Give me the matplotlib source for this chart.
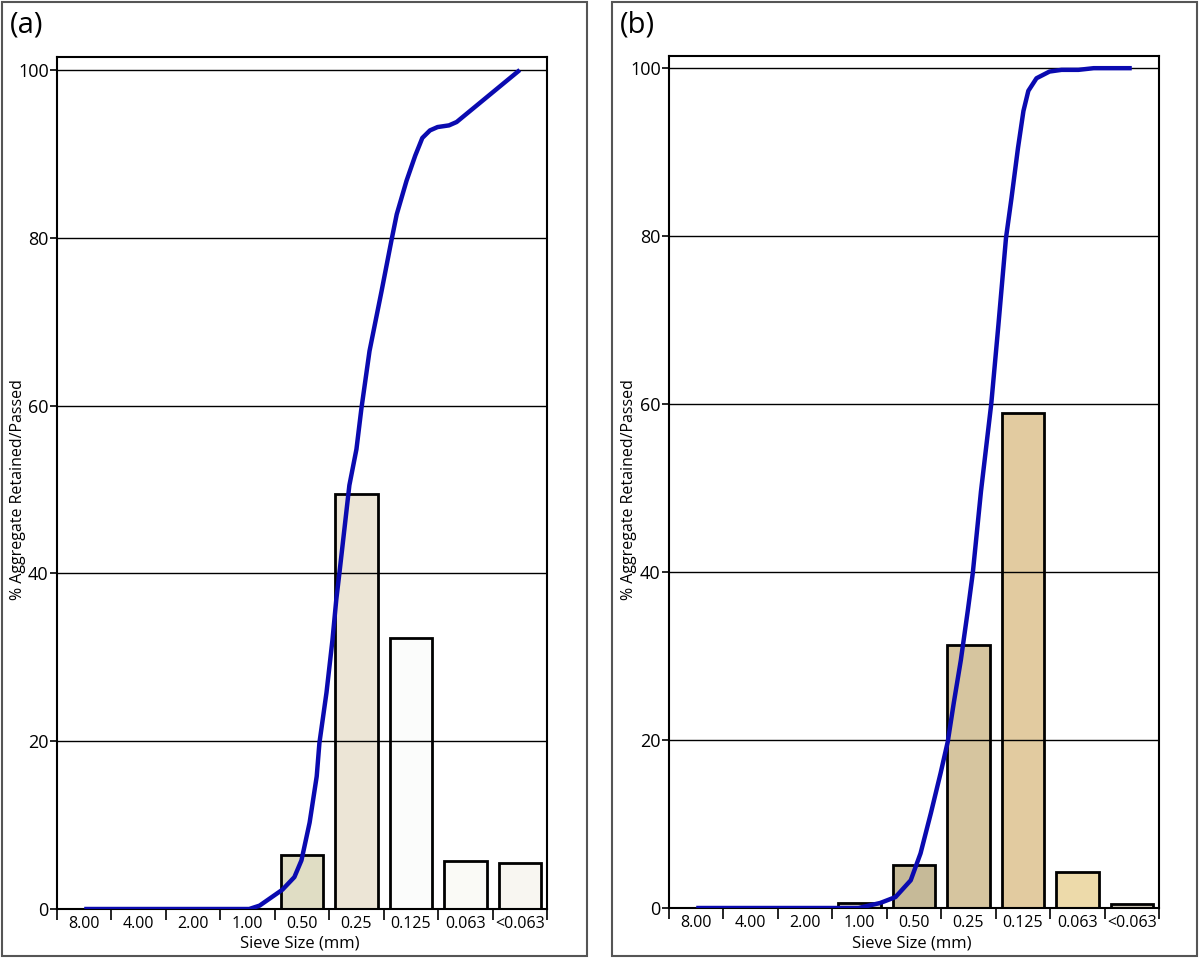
import matplotlib
matplotlib.use("Agg")
import matplotlib.pyplot as plt
from matplotlib.patches import Rectangle

plt.rcParams['font.family'] = ['Open Sans', 'DejaVu Sans']

sieve_labels = ["8.00", "4.00", "2.00", "1.00", "0.50", "0.25", "0.125", "0.063", "<0.063"]

# Panel (a): % retained per sieve
retained_a = [0, 0, 0, 0, 6.4, 49.5, 32.3, 5.7, 5.5]
bar_colors_a = ["#ffffff", "#ffffff", "#ffffff", "#ffffff",
                "#e0ddc4", "#ece5d6", "#fbfcfb", "#fafaf6", "#f8f6f1"]
# Panel (a): cumulative curve (position in category units, %)
curve_x_a = [0.0, 3.03, 3.22, 3.64, 3.86, 3.99, 4.14, 4.27, 4.32, 4.45, 4.56, 4.63,
             4.69, 4.87, 5.00, 5.09, 5.24, 5.46, 5.64, 5.74, 5.92, 6.08, 6.21, 6.35,
             6.49, 6.70, 6.84, 8.0]
curve_y_a = [0.0, 0.0, 0.4, 2.3, 3.8, 5.8, 10.3, 15.8, 19.8, 25.8, 32.1, 36.9,
             40.2, 50.5, 54.8, 59.6, 66.5, 73.6, 79.6, 82.8, 86.8, 89.8, 91.9, 92.8,
             93.2, 93.4, 93.8, 100.0]

# Panel (b)
retained_b = [0, 0, 0, 0.6, 5.1, 31.3, 59.0, 4.3, 0.5]
bar_colors_b = ["#ffffff", "#ffffff", "#ffffff", "#d9d3c6",
                "#c6ba98", "#d6c59f", "#e2cba0", "#eddaaa", "#cfc8b8"]
curve_x_b = [0.0, 2.98, 3.38, 3.66, 3.94, 4.12, 4.31, 4.49, 4.62, 4.73, 4.86, 4.99,
             5.08, 5.23, 5.42, 5.55, 5.69, 5.79, 5.91, 6.01, 6.10, 6.25, 6.49, 6.71,
             7.02, 7.30, 8.0]
curve_y_b = [0.0, 0.0, 0.6, 1.3, 3.3, 6.5, 11.3, 16.1, 19.8, 24.4, 29.5, 35.5,
             39.9, 49.6, 60.1, 69.4, 79.8, 84.5, 90.5, 94.9, 97.3, 98.8, 99.6, 99.8,
             99.8, 100.0, 100.0]

yticks = [0, 20, 40, 60, 80, 100]

W, H = 1200, 960
fig = plt.figure(figsize=(12, 9.6), dpi=100)


def fx(px):
    return px / W


def fy(py):
    return 1 - py / H


# panel frames
for (x0, x1) in [(2, 587), (612, 1197)]:
    fig.patches.append(Rectangle((fx(x0), fy(956)), fx(x1) - fx(x0), fy(2) - fy(956),
                                 transform=fig.transFigure, fill=False,
                                 edgecolor="#555555", linewidth=1.5, zorder=0))


def panel(left, right, top, bottom, ytop, retained, colors, cx, cy, tag, tagx, ylabx):
    ax = fig.add_axes([fx(left), fy(bottom), fx(right) - fx(left), fy(top) - fy(bottom)])
    n = len(sieve_labels)
    xs = list(range(n))
    for i in xs:
        if retained[i] > 0:
            ax.bar(i, retained[i], width=0.78, color=colors[i], edgecolor="black",
                   linewidth=2, zorder=2)
    for v in yticks[1:]:
        ax.axhline(v, color="black", linewidth=1, zorder=2.5)
    ax.plot(cx, cy, color="#0a0ab0", linewidth=3.2, zorder=3, solid_capstyle="butt",
            solid_joinstyle="round")
    ax.set_xlim(-0.5, n - 0.5)
    ax.set_ylim(0, ytop)
    ax.set_yticks(yticks)
    ax.set_yticklabels([str(v) for v in yticks], fontsize=13)
    ax.set_xticks([i - 0.5 for i in range(n + 1)])
    ax.set_xticklabels([])
    ax.set_xticks(xs, minor=True)
    ax.set_xticklabels(sieve_labels, minor=True, fontsize=11.5)
    ax.tick_params(axis="x", which="major", direction="out", length=8, width=1.2)
    ax.tick_params(axis="x", which="minor", length=0, pad=5)
    ax.tick_params(axis="y", direction="out", length=5, width=1.2, pad=1)
    for s in ax.spines.values():
        s.set_linewidth(1.5)
        s.set_color("black")
    xc = (left + right) / 2 - 2
    fig.text(fx(xc), fy(944), "Sieve Size (mm)", fontsize=12, ha="center", va="center")
    fig.text(fx(ylabx), fy(490), "% Aggregate Retained/Passed", fontsize=11.5,
             rotation=90, ha="center", va="center")
    fig.text(fx(tagx), fy(25), tag, fontsize=21, ha="left", va="center")
    return ax


panel(57, 547, 57, 909, 101.55, retained_a, bar_colors_a, curve_x_a, curve_y_a, "(a)", 10, 18)
panel(669, 1159, 56, 908, 101.45, retained_b, bar_colors_b, curve_x_b, curve_y_b, "(b)", 620, 629)

fig.savefig("out.png", dpi=100)
